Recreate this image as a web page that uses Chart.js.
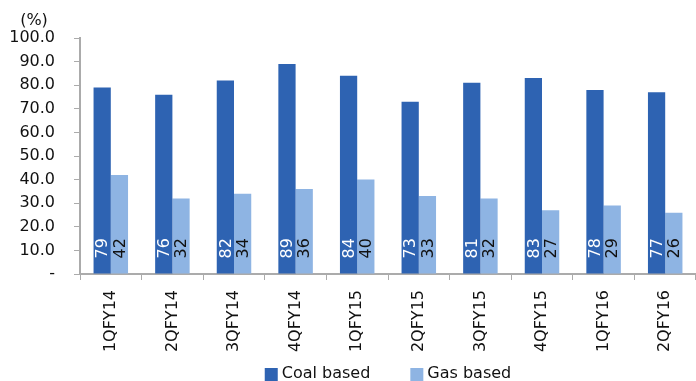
<!DOCTYPE html>
<html>
<head>
<meta charset="utf-8">
<script src="https://cdn.jsdelivr.net/npm/chart.js@4"></script>
<style>
  body { margin: 0; background: #fff; }
  #wrap { width: 696px; height: 381px; position: relative; }
</style>
</head>
<body>
<div id="wrap"><canvas id="grafico"></canvas></div>
<script>
const trimestres = ['1QFY14', '2QFY14', '3QFY14', '4QFY14', '1QFY15', '2QFY15', '3QFY15', '4QFY15', '1QFY16', '2QFY16'];
const carbon = [79, 76, 82, 89, 84, 73, 81, 83, 78, 77];
const gas = [42, 32, 34, 36, 40, 33, 32, 27, 29, 26];
const etiquetaY = '(%)';

const fuente = 'DejaVu Sans';
const gris = '#ABABAB';

// etiquetas verticales dentro de la base de cada barra, (%) y leyenda
const etiquetasBarras = {
  id: 'etiquetasBarras',
  afterDatasetsDraw(chart) {
    const ctx = chart.ctx;
    ctx.save();
    ctx.font = `16px "${fuente}"`;
    ctx.textAlign = 'left';
    ctx.textBaseline = 'middle';
    chart.data.datasets.forEach((ds, i) => {
      const meta = chart.getDatasetMeta(i);
      meta.data.forEach((bar, j) => {
        ctx.save();
        ctx.translate(bar.x, bar.base - 15);
        ctx.rotate(-Math.PI / 2);
        ctx.fillStyle = i === 0 ? '#fff' : '#111';
        ctx.fillText(String(Math.round(ds.data[j])), 0, 1);
        ctx.restore();
      });
    });
    const area = chart.chartArea;
    ctx.fillStyle = '#111';
    ctx.textAlign = 'center';
    ctx.fillText(etiquetaY, area.left - 46, area.top - 17);

    // leyenda abajo, centrada en el área del gráfico
    const caja = 13, sep = 4, hueco = 40;
    const anchos = chart.data.datasets.map(ds => caja + sep + ctx.measureText(ds.label).width);
    const total = anchos.reduce((a, b) => a + b, 0) + hueco * (anchos.length - 1);
    let x = (area.left + area.right) / 2 - total / 2;
    const yLeyenda = 374;
    ctx.textAlign = 'left';
    chart.data.datasets.forEach((ds, i) => {
      ctx.fillStyle = ds.backgroundColor;
      ctx.fillRect(x, yLeyenda - 6, caja, caja);
      ctx.fillStyle = '#111';
      ctx.fillText(ds.label, x + caja + sep, yLeyenda);
      x += anchos[i] + hueco;
    });
    ctx.restore();
  }
};

new Chart(document.getElementById('grafico').getContext('2d'), {
  type: 'bar',
  data: {
    labels: trimestres,
    datasets: [
      { label: 'Coal based', data: carbon, backgroundColor: '#2E63B2' },
      { label: 'Gas based', data: gas, backgroundColor: '#8EB4E3' }
    ]
  },
  options: {
    responsive: true,
    maintainAspectRatio: false,
    animation: false,
    categoryPercentage: 0.56,
    barPercentage: 1.0,
    layout: { padding: { top: 38, right: -6, bottom: 0, left: 0 } },
    plugins: {
      legend: { display: false },
      tooltip: { enabled: false }
    },
    scales: {
      x: {
        afterFit: (s) => { s.height = 107; },
        grid: { display: true, drawOnChartArea: false, drawTicks: true, tickLength: 6, color: gris, lineWidth: 1 },
        border: { display: true, color: gris, width: 2 },
        ticks: {
          color: '#111',
          font: { family: fuente, size: 16 },
          minRotation: 90,
          maxRotation: 90,
          padding: 10
        }
      },
      y: {
        min: 0,
        max: 100,
        afterFit: (s) => { s.width = 80; },
        grid: { display: true, drawOnChartArea: false, drawTicks: true, tickLength: 6, color: gris, lineWidth: 1 },
        border: { display: true, color: gris, width: 2 },
        ticks: {
          stepSize: 10,
          color: '#111',
          font: { family: fuente, size: 16 },
          padding: 19,
          callback: (v) => v === 0 ? '-' : v.toFixed(1)
        }
      }
    }
  },
  plugins: [etiquetasBarras]
});
</script>
</body>
</html>
